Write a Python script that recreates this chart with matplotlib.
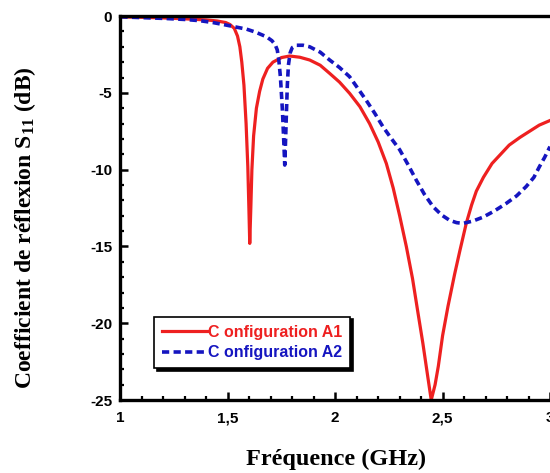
import matplotlib
matplotlib.use("Agg")
import matplotlib.pyplot as plt
from matplotlib.ticker import MultipleLocator

# data (GHz, dB)
freq_a1 = [1.0, 1.1, 1.2, 1.3, 1.4, 1.45, 1.49, 1.51, 1.53, 1.545, 1.556, 1.565,
           1.575, 1.585, 1.593, 1.598, 1.602, 1.607, 1.612, 1.62, 1.633, 1.648,
           1.663, 1.685, 1.71, 1.75, 1.788, 1.835, 1.881, 1.93, 1.974, 2.02,
           2.067, 2.115, 2.16, 2.2, 2.238, 2.27, 2.3, 2.331, 2.36, 2.385, 2.408,
           2.43, 2.447, 2.465, 2.48, 2.5, 2.525, 2.556, 2.58, 2.61, 2.635, 2.657,
           2.69, 2.73, 2.77, 2.81, 2.86, 2.905, 2.95, 3.0]
s11_a1 = [-0.05, -0.08, -0.12, -0.18, -0.25, -0.32, -0.42, -0.55, -0.8, -1.3, -2.0, -3.0,
          -4.5, -7.0, -9.8, -12.5, -14.8, -12.5, -10.0, -7.8, -6.0, -4.9,
          -4.1, -3.4, -3.0, -2.7, -2.6, -2.68, -2.86, -3.2, -3.73, -4.3,
          -5.03, -5.9, -7.0, -8.2, -9.6, -11.2, -13.0, -15.0, -17.1, -19.3, -21.3,
          -23.4, -25.0, -24.0, -22.8, -20.8, -18.9, -16.8, -15.3, -13.5, -12.3, -11.4,
          -10.5, -9.6, -9.0, -8.4, -7.9, -7.5, -7.1, -6.8]

freq_a2 = [1.0, 1.1, 1.2, 1.3, 1.37, 1.43, 1.49, 1.54, 1.587, 1.63, 1.68, 1.705,
           1.72, 1.73, 1.737, 1.745, 1.754, 1.76, 1.765, 1.769, 1.773, 1.777,
           1.782, 1.79, 1.8, 1.82, 1.85, 1.881, 1.93, 1.974, 2.02, 2.067, 2.105,
           2.145, 2.185, 2.222, 2.26, 2.3, 2.34, 2.378, 2.415, 2.455, 2.495,
           2.533, 2.565, 2.594, 2.64, 2.687, 2.74, 2.796, 2.845, 2.889, 2.925,
           2.951, 2.975, 3.0]
s11_a2 = [-0.05, -0.1, -0.15, -0.22, -0.3, -0.42, -0.58, -0.72, -0.85, -1.05, -1.35, -1.6,
          -1.85, -2.2, -2.8, -4.0, -6.1, -8.0, -9.7, -8.0, -6.2, -4.5,
          -3.2, -2.4, -2.05, -1.9, -1.9, -2.0, -2.35, -2.86, -3.35, -3.95, -4.7,
          -5.5, -6.35, -7.2, -7.95, -8.7, -9.7, -10.7, -11.6, -12.4, -12.95,
          -13.3, -13.45, -13.5, -13.35, -13.1, -12.7, -12.2, -11.7, -11.1, -10.5,
          -9.8, -9.2, -8.5]

labels = ["C onfiguration A1", "C onfiguration A2"]
xticks = [1, 1.5, 2, 2.5, 3]
xticklabels = ["1", "1,5", "2", "2,5", "3"]
yticks = [0, -5, -10, -15, -20, -25]
yticklabels = ["0", "-5", "-10", "-15", "-20", "-25"]

red = "#ee2020"
blue = "#1515c0"

plt.rcParams["mathtext.fontset"] = "custom"
plt.rcParams["mathtext.rm"] = "Liberation Serif:bold"
plt.rcParams["mathtext.it"] = "Liberation Serif:bold"

fig = plt.figure(figsize=(5.5, 4.73), dpi=100)
ax = fig.add_axes([0.219, 0.1543, 0.781, 0.8117])

ax.plot(freq_a1, s11_a1, color=red, lw=2.3, label=labels[0],
        solid_joinstyle="round")
ax.plot(freq_a2, s11_a2, color=blue, lw=2.6, linestyle=(0, (2, 1.2)),
        label=labels[1])

ax.set_xlim(1, 3)
ax.set_ylim(-25, 0)

ax.set_xticks(xticks)
ax.set_xticklabels(xticklabels)
ax.set_yticks(yticks)
ax.set_yticklabels(yticklabels)
ax.xaxis.set_minor_locator(MultipleLocator(0.1))
ax.yaxis.set_minor_locator(MultipleLocator(1))

for lab in ax.get_xticklabels() + ax.get_yticklabels():
    lab.set_fontfamily("Liberation Sans")
    lab.set_fontweight("bold")
    lab.set_fontsize(11)

ax.tick_params(which="major", direction="in", length=5.5, width=1.8, top=False, right=False)
ax.tick_params(which="minor", direction="in", length=3, width=1.6, top=False, right=False)
ax.tick_params(axis="x", which="major", pad=8)
ax.tick_params(axis="y", which="major", pad=6)

ax.spines["right"].set_visible(False)
for s in ["left", "bottom", "top"]:
    ax.spines[s].set_linewidth(2.4)

# axis titles placed in figure pixels to match the reference
fig.text(25 / 550, 1 - 228 / 473, "Coefficient de réflexion S$_{11}$ (dB)",
         rotation=90, ha="center", va="center", fontsize=17,
         family="Liberation Serif", weight="bold")
fig.text(336 / 550, 1 - 459 / 473, "Fréquence (GHz)", ha="center", va="center",
         fontsize=17.5, family="Liberation Serif", weight="bold")

leg = ax.legend(loc="lower left", bbox_to_anchor=(0.078, 0.083),
                prop={"family": "Liberation Sans", "weight": "bold", "size": 11.5},
                frameon=True, fancybox=False, shadow={"color": "black", "alpha": 1},
                edgecolor="black", framealpha=1, handlelength=2.9, handletextpad=0,
                borderpad=0.5, labelspacing=0.35, borderaxespad=0)
leg.get_frame().set_linewidth(1.2)
for txt, c in zip(leg.get_texts(), [red, blue]):
    txt.set_color(c)

fig.savefig("out.png", dpi=100)
